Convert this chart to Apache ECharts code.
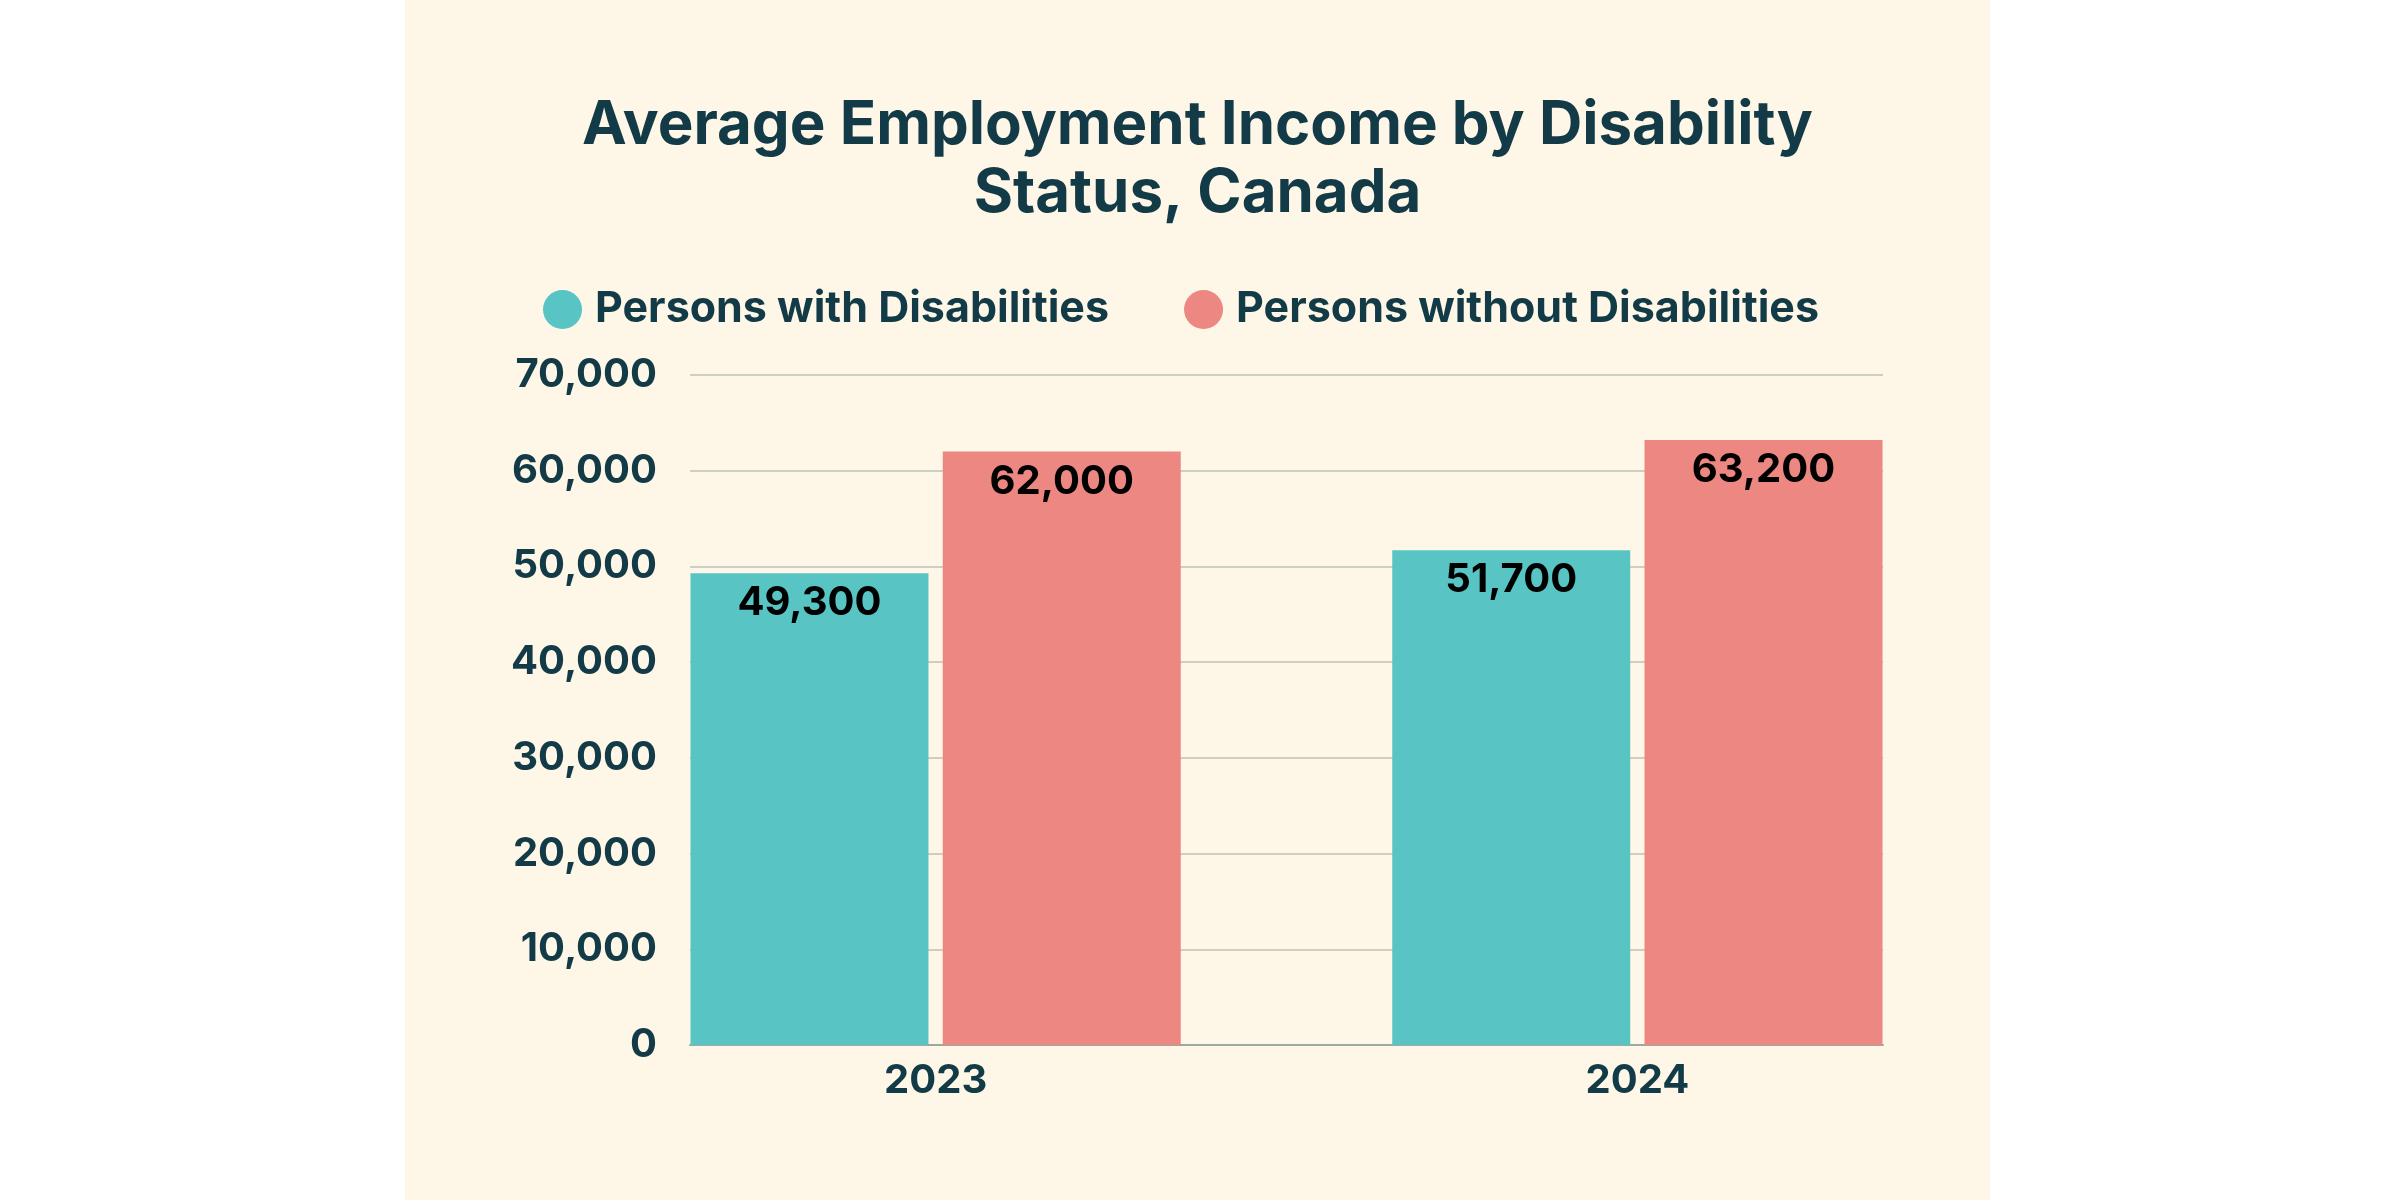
<!DOCTYPE html>
<html>
<head>
<meta charset="utf-8">
<title>Average Employment Income by Disability Status, Canada</title>
<script src="https://cdn.jsdelivr.net/npm/echarts@6/dist/echarts.min.js"></script>
<style>
  html, body { margin: 0; padding: 0; background: #ffffff; }
  #chart { position: absolute; left: 405px; top: 0; width: 1585px; height: 1200px; }
</style>
</head>
<body>
<div id="chart"></div>
<script>
// data
const years = [2023, 2024];
const withDisabilities = [49300, 51700];
const withoutDisabilities = [62000, 63200];
const seriesNames = ['Persons with Disabilities', 'Persons without Disabilities'];
const yTicks = [0, 10000, 20000, 30000, 40000, 50000, 60000, 70000];

const FONT = 'Inter, "Open Sans", sans-serif';
const DARK = '#133b47';

const fmt = v => Number(v).toLocaleString('en-US');

const chart = echarts.init(document.getElementById('chart'));

const barLabel = {
  show: true,
  position: 'insideTop',
  distance: 10,
  color: '#000000',
  fontFamily: FONT,
  fontWeight: 'bold',
  fontSize: 40,
  formatter: p => fmt(p.value[1])
};

const option = {
  backgroundColor: '#fef7e7',
  animation: false,
  title: {
    text: 'Average Employment Income by Disability\nStatus, Canada',
    left: 'center',
    top: 87,
    textStyle: {
      color: DARK,
      fontFamily: FONT,
      fontWeight: 'bold',
      fontSize: 60,
      lineHeight: 68
    }
  },
  legend: {
    data: seriesNames,
    left: 133,
    top: 283,
    icon: 'circle',
    itemWidth: 39,
    itemHeight: 39,
    itemGap: 75,
    textStyle: {
      color: DARK,
      fontFamily: FONT,
      fontWeight: 'bold',
      fontSize: 43,
      padding: [0, 0, 0, 8]
    }
  },
  grid: {
    left: 285,
    right: 107,
    top: 375,
    bottom: 155,
    containLabel: false
  },
  xAxis: {
    type: 'value',
    min: 2022.65,
    max: 2024.35,
    splitLine: { show: false },
    axisTick: { show: false },
    axisLine: { show: true, lineStyle: { color: '#9fa9a0', width: 2 } },
    axisLabel: {
      customValues: years,
      margin: 16,
      color: DARK,
      fontFamily: FONT,
      fontWeight: 'bold',
      fontSize: 40,
      formatter: v => String(v)
    }
  },
  yAxis: {
    type: 'value',
    min: yTicks[0],
    max: yTicks[yTicks.length - 1],
    interval: 10000,
    axisLine: { show: false },
    axisTick: { show: false },
    splitLine: { lineStyle: { color: '#cdcfc4', width: 2 } },
    axisLabel: {
      margin: 33,
      color: DARK,
      fontFamily: FONT,
      fontWeight: 'bold',
      fontSize: 40,
      formatter: v => fmt(v)
    }
  },
  series: [
    {
      name: seriesNames[0],
      type: 'bar',
      barWidth: 238,
      barGap: '6%',
      itemStyle: { color: '#58c4c4' },
      label: barLabel,
      data: years.map((y, i) => [y, withDisabilities[i]])
    },
    {
      name: seriesNames[1],
      type: 'bar',
      barWidth: 238,
      barGap: '6%',
      itemStyle: { color: '#ed8781' },
      label: barLabel,
      data: years.map((y, i) => [y, withoutDisabilities[i]])
    }
  ]
};

chart.setOption(option);
</script>
</body>
</html>
